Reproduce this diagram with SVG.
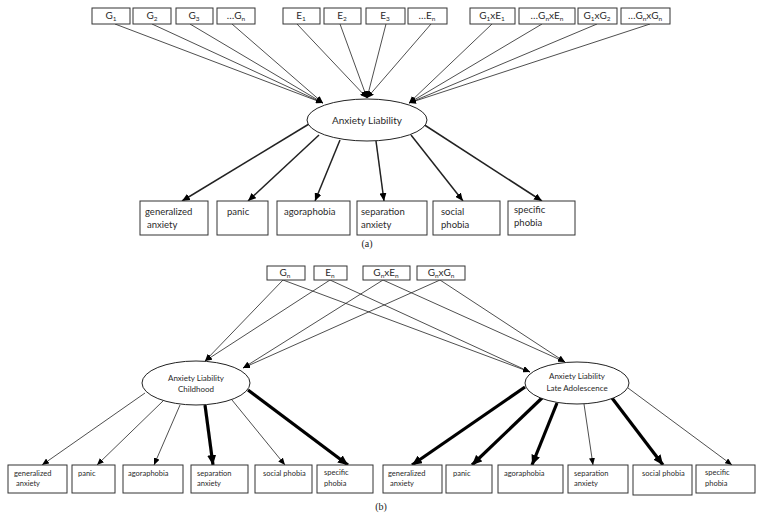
<svg xmlns="http://www.w3.org/2000/svg" width="764" height="518" viewBox="0 0 764 518">
<style>
  rect{fill:#fff;stroke:#333;stroke-width:1}
  ellipse{fill:#fff;stroke:#222;stroke-width:1}
  text{font-family:Lato,"Liberation Sans",sans-serif;fill:#2a2a2a}
  .t{font-size:10px;text-anchor:middle}
  .s{font-size:6.5px}
  .a{font-size:9.5px}
  .b{font-size:7.5px}
  .cap{font-family:"Liberation Serif",serif;font-size:10px;text-anchor:middle;fill:#222}
  .thin{stroke:#222;stroke-width:0.8;fill:none;marker-end:url(#ah)}
  .med{stroke:#222;stroke-width:1.5;fill:none;marker-end:url(#am)}
  .thk{stroke:#000;stroke-width:3.2;fill:none;marker-end:url(#ak)}
</style>
<defs>
  <marker id="ah" markerUnits="userSpaceOnUse" markerWidth="7" markerHeight="6" refX="7" refY="3" orient="auto"><path d="M0,0 L7,3 L0,6 z" fill="#000"/></marker>
  <marker id="am" markerUnits="userSpaceOnUse" markerWidth="8" markerHeight="7" refX="8" refY="3.5" orient="auto"><path d="M0,0 L8,3.5 L0,7 z" fill="#000"/></marker>
  <marker id="ak" markerUnits="userSpaceOnUse" markerWidth="10" markerHeight="9" refX="10" refY="4.5" orient="auto"><path d="M0,0 L10,4.5 L0,9 z" fill="#000"/></marker>
</defs>

<g id="connectors">
  <!-- (a) inputs -->
  <line class="thin" x1="115" y1="24" x2="323" y2="103"/>
  <line class="thin" x1="152" y1="24" x2="323" y2="103"/>
  <line class="thin" x1="190" y1="24" x2="323" y2="103"/>
  <line class="thin" x1="232" y1="24" x2="323" y2="103"/>
  <line class="thin" x1="297" y1="24" x2="367" y2="98"/>
  <line class="thin" x1="340" y1="24" x2="367" y2="98"/>
  <line class="thin" x1="386" y1="24" x2="367" y2="98"/>
  <line class="thin" x1="431" y1="24" x2="367" y2="98"/>
  <line class="thin" x1="492" y1="24" x2="409" y2="103"/>
  <line class="thin" x1="542" y1="24" x2="409" y2="103"/>
  <line class="thin" x1="597" y1="24" x2="409" y2="103"/>
  <line class="thin" x1="650" y1="24" x2="409" y2="103"/>
  <!-- (a) outputs -->
  <line class="med" x1="309" y1="124" x2="182" y2="201"/>
  <line class="med" x1="319" y1="135" x2="248" y2="201"/>
  <line class="med" x1="340" y1="140" x2="315" y2="201"/>
  <line class="med" x1="376" y1="141" x2="384" y2="201"/>
  <line class="med" x1="411" y1="135" x2="463" y2="201"/>
  <line class="med" x1="423" y1="124" x2="542" y2="201"/>
  <!-- (b) inputs -->
  <line class="thin" x1="283" y1="280" x2="205" y2="361"/>
  <line class="thin" x1="330" y1="280" x2="205" y2="361"/>
  <line class="thin" x1="383" y1="280" x2="243" y2="368"/>
  <line class="thin" x1="440" y1="280" x2="243" y2="368"/>
  <line class="thin" x1="283" y1="280" x2="530" y2="372"/>
  <line class="thin" x1="330" y1="280" x2="530" y2="372"/>
  <line class="thin" x1="383" y1="280" x2="565" y2="362"/>
  <line class="thin" x1="440" y1="280" x2="565" y2="362"/>
  <!-- (b) childhood outputs -->
  <line class="thin" x1="145" y1="393" x2="42" y2="465"/>
  <line class="thin" x1="163" y1="401" x2="97" y2="465"/>
  <line class="thin" x1="180" y1="405" x2="154" y2="465"/>
  <line class="thk" x1="205" y1="405" x2="213" y2="465"/>
  <line class="thin" x1="232" y1="400" x2="285" y2="465"/>
  <line class="thk" x1="248" y1="390" x2="348" y2="465"/>
  <!-- (b) late adolescence outputs -->
  <line class="thk" x1="525" y1="387" x2="412" y2="465"/>
  <line class="thk" x1="542" y1="398" x2="472" y2="465"/>
  <line class="thk" x1="557" y1="403" x2="532" y2="465"/>
  <line class="thin" x1="584" y1="404" x2="593" y2="465"/>
  <line class="thk" x1="612" y1="398" x2="663" y2="465"/>
  <line class="thin" x1="628" y1="388" x2="732" y2="465"/>
</g>

<!-- (a) inputs -->
<g id="a_G1"><rect x="92" y="8" width="38" height="16"/><text class="t" x="111" y="19">G<tspan class="s" dy="2">1</tspan></text></g>
<g id="a_G2"><rect x="133" y="8" width="38" height="16"/><text class="t" x="152" y="19">G<tspan class="s" dy="2">2</tspan></text></g>
<g id="a_G3"><rect x="176" y="8" width="37" height="16"/><text class="t" x="194" y="19">G<tspan class="s" dy="2">3</tspan></text></g>
<g id="a_Gn"><rect x="217" y="8" width="38" height="16"/><text class="t" x="236" y="19">…G<tspan class="s" dy="2">n</tspan></text></g>
<g id="a_E1"><rect x="283" y="8" width="37" height="16"/><text class="t" x="301" y="19">E<tspan class="s" dy="2">1</tspan></text></g>
<g id="a_E2"><rect x="324" y="8" width="37" height="16"/><text class="t" x="342" y="19">E<tspan class="s" dy="2">2</tspan></text></g>
<g id="a_E3"><rect x="366" y="8" width="39" height="16"/><text class="t" x="385" y="19">E<tspan class="s" dy="2">3</tspan></text></g>
<g id="a_En"><rect x="408" y="8" width="39" height="16"/><text class="t" x="427" y="19">…E<tspan class="s" dy="2">n</tspan></text></g>
<g id="a_G1xE1"><rect x="470" y="8" width="45" height="16"/><text class="t" x="492" y="19">G<tspan class="s" dy="2">1</tspan><tspan dy="-2">xE</tspan><tspan class="s" dy="2">1</tspan></text></g>
<g id="a_GnxEn"><rect x="519" y="8" width="56" height="16"/><text class="t" x="547" y="19">…G<tspan class="s" dy="2">n</tspan><tspan dy="-2">xE</tspan><tspan class="s" dy="2">n</tspan></text></g>
<g id="a_G1xG2"><rect x="578" y="8" width="39" height="16"/><text class="t" x="597" y="19">G<tspan class="s" dy="2">1</tspan><tspan dy="-2">xG</tspan><tspan class="s" dy="2">2</tspan></text></g>
<g id="a_GnxGn"><rect x="621" y="8" width="49" height="16"/><text class="t" x="645" y="19">…G<tspan class="s" dy="2">n</tspan><tspan dy="-2">xG</tspan><tspan class="s" dy="2">n</tspan></text></g>

<g id="a_liability"><ellipse cx="367" cy="120" rx="60" ry="21"/><text x="367" y="124" font-size="10" text-anchor="middle">Anxiety Liability</text></g>

<g id="a_gad"><rect x="140" y="201" width="68" height="34"/><text class="a" x="145" y="215">generalized</text><text class="a" x="147" y="228">anxiety</text></g>
<g id="a_panic"><rect x="217" y="201" width="51" height="34"/><text class="a" x="227" y="215">panic</text></g>
<g id="a_agora"><rect x="277" y="201" width="73" height="34"/><text class="a" x="284" y="215">agoraphobia</text></g>
<g id="a_sep"><rect x="357" y="201" width="70" height="34"/><text class="a" x="361" y="215">separation</text><text class="a" x="361" y="228">anxiety</text></g>
<g id="a_social"><rect x="433" y="201" width="67" height="34"/><text class="a" x="441" y="215">social</text><text class="a" x="441" y="228">phobia</text></g>
<g id="a_specific"><rect x="508" y="201" width="67" height="34"/><text class="a" x="514" y="213">specific</text><text class="a" x="514" y="226">phobia</text></g>

<text class="cap" x="367" y="247">(a)</text>

<!-- (b) inputs -->
<g id="b_Gn"><rect x="267" y="266" width="38" height="14"/><text class="t" x="285" y="276">G<tspan class="s" dy="2">n</tspan></text></g>
<g id="b_En"><rect x="314" y="266" width="33" height="14"/><text class="t" x="330" y="276">E<tspan class="s" dy="2">n</tspan></text></g>
<g id="b_GnxEn"><rect x="363" y="266" width="47" height="14"/><text class="t" x="386" y="276">G<tspan class="s" dy="2">n</tspan><tspan dy="-2">xE</tspan><tspan class="s" dy="2">n</tspan></text></g>
<g id="b_GnxGn"><rect x="417" y="266" width="48" height="14"/><text class="t" x="441" y="276">G<tspan class="s" dy="2">n</tspan><tspan dy="-2">xG</tspan><tspan class="s" dy="2">n</tspan></text></g>

<g id="b_child"><ellipse cx="196" cy="383" rx="54" ry="22"/><text x="196" y="381" font-size="8" text-anchor="middle">Anxiety Liability</text><text x="196" y="392" font-size="8" text-anchor="middle">Childhood</text></g>
<g id="b_late"><ellipse cx="577" cy="383" rx="52" ry="21"/><text x="577" y="379" font-size="8" text-anchor="middle">Anxiety Liability</text><text x="577" y="391" font-size="8" text-anchor="middle">Late Adolescence</text></g>

<!-- (b) childhood outputs -->
<g id="b_c_gad"><rect x="8" y="465" width="59" height="28"/><text class="b" x="14" y="476">generalized</text><text class="b" x="16" y="486">anxiety</text></g>
<g id="b_c_panic"><rect x="72" y="465" width="43" height="28"/><text class="b" x="78" y="476">panic</text></g>
<g id="b_c_agora"><rect x="123" y="465" width="60" height="28"/><text class="b" x="128" y="476">agoraphobia</text></g>
<g id="b_c_sep"><rect x="191" y="465" width="57" height="28"/><text class="b" x="197" y="476">separation</text><text class="b" x="197" y="486">anxiety</text></g>
<g id="b_c_social"><rect x="255" y="465" width="57" height="28"/><text class="b" x="263" y="476">social phobia</text></g>
<g id="b_c_specific"><rect x="317" y="465" width="56" height="28"/><text class="b" x="324" y="475">specific</text><text class="b" x="324" y="486">phobia</text></g>

<!-- (b) late adolescence outputs -->
<g id="b_l_gad"><rect x="383" y="465" width="59" height="28"/><text class="b" x="388" y="476">generalized</text><text class="b" x="390" y="486">anxiety</text></g>
<g id="b_l_panic"><rect x="446" y="465" width="46" height="28"/><text class="b" x="453" y="476">panic</text></g>
<g id="b_l_agora"><rect x="498" y="465" width="65" height="28"/><text class="b" x="504" y="476">agoraphobia</text></g>
<g id="b_l_sep"><rect x="568" y="465" width="60" height="28"/><text class="b" x="574" y="476">separation</text><text class="b" x="574" y="486">anxiety</text></g>
<g id="b_l_social"><rect x="633" y="465" width="59" height="30"/><text class="b" x="642" y="476">social phobia</text></g>
<g id="b_l_specific"><rect x="696" y="465" width="59" height="28"/><text class="b" x="705" y="475">specific</text><text class="b" x="705" y="486">phobia</text></g>

<text class="cap" x="381" y="510">(b)</text>
</svg>
